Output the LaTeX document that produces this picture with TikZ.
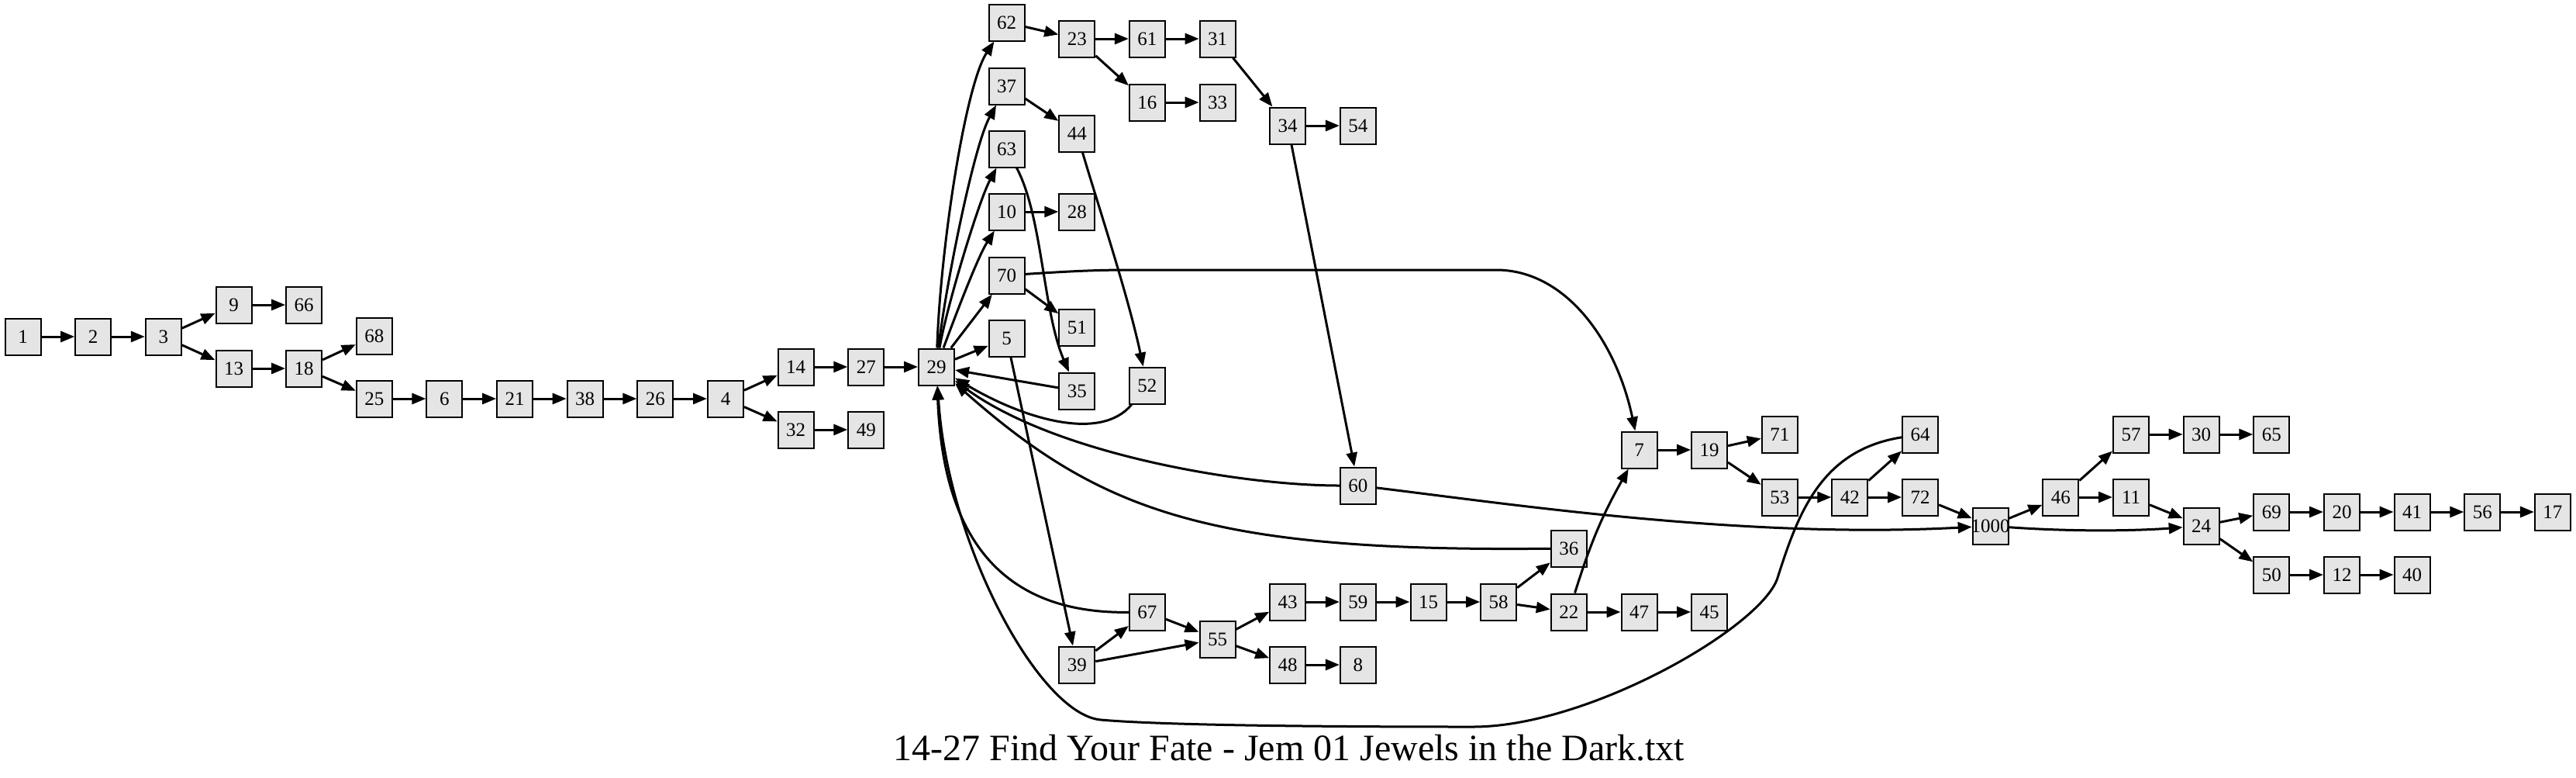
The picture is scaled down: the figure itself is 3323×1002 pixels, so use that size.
\documentclass[tikz,border=0pt]{standalone}
\usepackage{fontspec}
\setmainfont{Liberation Serif}
\usetikzlibrary{arrows.meta}

\definecolor{pagegray}{RGB}{229,229,229}
\tikzset{every picture/.style={line width=1.5pt}}
\tikzset{
  pagebox/.style={draw, line width=1pt, fill=pagegray, minimum width=23pt, minimum height=23.5pt, inner sep=0pt, font=\fontsize{12.5}{14}\selectfont},
  link/.style={-{Triangle[length=9pt,width=7pt]}}
}

\begin{document}
\begin{tikzpicture}[x=0.5pt,y=0.5pt,yscale=-1,xscale=1]
        %set diagram size to the reference
        \useasboundingbox (0,0) rectangle (3323,1002);

        % Nodes, left part
        \draw (29.5,434) node [pagebox] (n1) {1};
        \draw (120.2,434) node [pagebox] (n2) {2};
        \draw (210.8,434) node [pagebox] (n3) {3};
        \draw (301.5,393) node [pagebox] (n9) {9};
        \draw (301.5,475) node [pagebox] (n13) {13};
        \draw (392.1,393) node [pagebox] (n66) {66};
        \draw (392.1,475) node [pagebox] (n18) {18};
        \draw (482.8,433) node [pagebox] (n68) {68};
        \draw (482.8,514) node [pagebox] (n25) {25};
        \draw (573.4,514) node [pagebox] (n6) {6};
        \draw (664.1,514) node [pagebox] (n21) {21};
        \draw (754.7,514) node [pagebox] (n38) {38};
        \draw (845.4,514) node [pagebox] (n26) {26};
        \draw (936,514) node [pagebox] (n4) {4};
        \draw (1026.7,473) node [pagebox] (n14) {14};
        \draw (1026.7,554) node [pagebox] (n32) {32};
        \draw (1117.3,473) node [pagebox] (n27) {27};
        \draw (1117.3,554) node [pagebox] (n49) {49};
        \draw (1208,473) node [pagebox] (n29) {29};

        % Nodes, middle part
        \draw (1298.6,29) node [pagebox] (n62) {62};
        \draw (1298.6,111) node [pagebox] (n37) {37};
        \draw (1298.6,192) node [pagebox] (n63) {63};
        \draw (1298.6,273) node [pagebox] (n10) {10};
        \draw (1298.6,355) node [pagebox] (n70) {70};
        \draw (1298.6,436) node [pagebox] (n5) {5};
        \draw (1389.3,50) node [pagebox] (n23) {23};
        \draw (1389.3,172) node [pagebox] (n44) {44};
        \draw (1389.3,273) node [pagebox] (n28) {28};
        \draw (1389.3,422) node [pagebox] (n51) {51};
        \draw (1389.3,504) node [pagebox] (n35) {35};
        \draw (1389.3,857) node [pagebox] (n39) {39};
        \draw (1479.9,50) node [pagebox] (n61) {61};
        \draw (1479.9,132) node [pagebox] (n16) {16};
        \draw (1479.9,497) node [pagebox] (n52) {52};
        \draw (1479.9,789) node [pagebox] (n67) {67};
        \draw (1570.6,50) node [pagebox] (n31) {31};
        \draw (1570.6,132) node [pagebox] (n33) {33};
        \draw (1570.6,824) node [pagebox] (n55) {55};
        \draw (1661.2,162) node [pagebox] (n34) {34};
        \draw (1661.2,776) node [pagebox] (n43) {43};
        \draw (1661.2,857) node [pagebox] (n48) {48};
        \draw (1751.9,162) node [pagebox] (n54) {54};
        \draw (1751.9,626) node [pagebox] (n60) {60};
        \draw (1751.9,776) node [pagebox] (n59) {59};
        \draw (1751.9,857) node [pagebox] (n8) {8};
        \draw (1842.5,776) node [pagebox] (n15) {15};
        \draw (1933.2,776) node [pagebox] (n58) {58};
        \draw (2023.8,707) node [pagebox] (n36) {36};
        \draw (2023.8,789) node [pagebox] (n22) {22};
        \draw (2114.5,580) node [pagebox] (n7) {7};
        \draw (2114.5,789) node [pagebox] (n47) {47};
        \draw (2205.1,580) node [pagebox] (n19) {19};
        \draw (2205.1,789) node [pagebox] (n45) {45};

        % Nodes, right part
        \draw (2295.8,560) node [pagebox] (n71) {71};
        \draw (2295.8,641) node [pagebox] (n53) {53};
        \draw (2386.4,641) node [pagebox] (n42) {42};
        \draw (2477.1,560) node [pagebox] (n64) {64};
        \draw (2477.1,641) node [pagebox] (n72) {72};
        \draw (2567.7,678) node [pagebox] (n1000) {\makebox[20pt]{1000}};
        \draw (2658.4,641) node [pagebox] (n46) {46};
        \draw (2749,560) node [pagebox] (n57) {57};
        \draw (2749,641) node [pagebox] (n11) {11};
        \draw (2839.7,560) node [pagebox] (n30) {30};
        \draw (2839.7,678) node [pagebox] (n24) {24};
        \draw (2930.3,560) node [pagebox] (n65) {65};
        \draw (2930.3,660) node [pagebox] (n69) {69};
        \draw (2930.3,741) node [pagebox] (n50) {50};
        \draw (3021,660) node [pagebox] (n20) {20};
        \draw (3021,741) node [pagebox] (n12) {12};
        \draw (3111.6,660) node [pagebox] (n41) {41};
        \draw (3111.6,741) node [pagebox] (n40) {40};
        \draw (3202.3,660) node [pagebox] (n56) {56};
        \draw (3292.9,660) node [pagebox] (n17) {17};

        %Straight Lines
        \draw [link] (n1) -- (n2);
        \draw [link] (n2) -- (n3);
        \draw [link] (n3) -- (n9);
        \draw [link] (n3) -- (n13);
        \draw [link] (n9) -- (n66);
        \draw [link] (n13) -- (n18);
        \draw [link] (n18) -- (n68);
        \draw [link] (n18) -- (n25);
        \draw [link] (n25) -- (n6);
        \draw [link] (n6) -- (n21);
        \draw [link] (n21) -- (n38);
        \draw [link] (n38) -- (n26);
        \draw [link] (n26) -- (n4);
        \draw [link] (n4) -- (n14);
        \draw [link] (n4) -- (n32);
        \draw [link] (n14) -- (n27);
        \draw [link] (n32) -- (n49);
        \draw [link] (n27) -- (n29);
        \draw [link] (n29) -- (n70);
        \draw [link] (n29) -- (n5);
        \draw [link] (n35) -- (n29);
        \draw [link] (n62) -- (n23);
        \draw [link] (n23) -- (n61);
        \draw [link] (n23) -- (n16);
        \draw [link] (n61) -- (n31);
        \draw [link] (n16) -- (n33);
        \draw [link] (n31) -- (n34);
        \draw [link] (n34) -- (n54);
        \draw [link] (n34) -- (n60);
        \draw [link] (n37) -- (n44);
        \draw [link] (n10) -- (n28);
        \draw [link] (n70) -- (n51);
        \draw [link] (n5) -- (n39);
        \draw [link] (n39) -- (n67);
        \draw [link] (n39) -- (n55);
        \draw [link] (n67) -- (n55);
        \draw [link] (n55) -- (n43);
        \draw [link] (n55) -- (n48);
        \draw [link] (n48) -- (n8);
        \draw [link] (n43) -- (n59);
        \draw [link] (n59) -- (n15);
        \draw [link] (n15) -- (n58);
        \draw [link] (n58) -- (n36);
        \draw [link] (n58) -- (n22);
        \draw [link] (n22) to [bend right=6] (n7);
        \draw [link] (n22) -- (n47);
        \draw [link] (n47) -- (n45);
        \draw [link] (n7) -- (n19);
        \draw [link] (n19) -- (n71);
        \draw [link] (n19) -- (n53);
        \draw [link] (n53) -- (n42);
        \draw [link] (n42) -- (n64);
        \draw [link] (n42) -- (n72);
        \draw [link] (n72) -- (n1000);
        \draw [link] (n1000) -- (n46);
        \draw [link] (n46) -- (n57);
        \draw [link] (n46) -- (n11);
        \draw [link] (n11) -- (n24);
        \draw [link] (n57) -- (n30);
        \draw [link] (n30) -- (n65);
        \draw [link] (n24) -- (n69);
        \draw [link] (n24) -- (n50);
        \draw [link] (n69) -- (n20);
        \draw [link] (n20) -- (n41);
        \draw [link] (n41) -- (n56);
        \draw [link] (n56) -- (n17);
        \draw [link] (n50) -- (n12);
        \draw [link] (n12) -- (n40);

        %Curve Lines
        \draw [link] (n29) .. controls (1213,320) and (1245,110) .. (n62);
        \draw [link] (n29) .. controls (1218,380) and (1255,190) .. (n37);
        \draw [link] (n29) .. controls (1220,400) and (1262,260) .. (n63);
        \draw [link] (n29) .. controls (1235,400) and (1262,330) .. (n10);
        \draw [link] (n44) .. controls (1415,260) and (1455,380) .. (n52);
        \draw [link] (n63) .. controls (1345,280) and (1345,400) .. (n35);
        \draw [link] (n70) .. controls (1390,349) and (1420,348) .. (1460,348) -- (1930,348) .. controls (2020,348) and (2085,440) .. (n7);
        \draw [link] (n52) .. controls (1420,570) and (1320,540) .. (n29);
        \draw [link] (n60) .. controls (1600,626) and (1360,585) .. (n29);
        \draw [link] (n36) .. controls (1560,712) and (1420,660) .. (n29);
        \draw [link] (n67) .. controls (1260,792) and (1215,650) .. (n29);
        \draw [link] (n64) .. controls (2350,580) and (2320,660) .. (2293,745) .. controls (2273,808) and (2050,937) .. (1900,937) .. controls (1700,937) and (1500,935) .. (1420,928) .. controls (1340,921) and (1222,700) .. (n29);
        \draw [link] (n60) .. controls (1950,650) and (2250,695) .. (n1000);
        \draw [link] (n1000) .. controls (2680,686) and (2760,684) .. (n24);

        % Text Node
        \draw (1663,980) node [anchor=base, inner sep=0pt] (title) {\fontsize{24}{28}\selectfont 14-27 Find Your Fate - Jem 01 Jewels in the Dark.txt};

\end{tikzpicture}
\end{document}
